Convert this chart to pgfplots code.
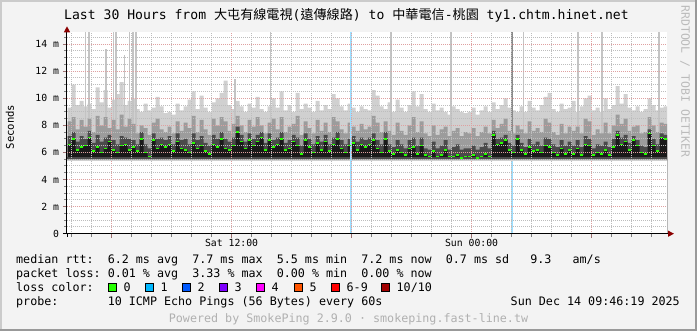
\documentclass[border=0pt]{standalone}
\usepackage{fontspec}
\setmonofont{DejaVu Sans Mono}
\newfontfamily\cjk{Noto Sans CJK TC}
\usepackage{pgfplots}
\pgfplotsset{compat=1.18}
\usepackage{pgfplotstable}
\usetikzlibrary{arrows.meta}
\definecolor{bg}{HTML}{F3F3F3}
\definecolor{shadeA}{HTML}{CBCBCB}
\definecolor{shadeB}{HTML}{999999}
\definecolor{majgrid}{HTML}{DFA0A0}
\definecolor{mingrid}{HTML}{BDBDBD}
\definecolor{arrowred}{HTML}{8B0000}
\definecolor{smokeA}{HTML}{D0D0D0}
\definecolor{smokeB}{HTML}{9C9C9C}
\definecolor{smokeC}{HTML}{4A4A4A}
\definecolor{smokeD}{HTML}{1A1A1A}
\definecolor{spike}{HTML}{C4C4C4}
\definecolor{spikedark}{HTML}{8A8A8A}
\definecolor{lossblue}{HTML}{9EDFFF}
\definecolor{lc0}{HTML}{26FF00}
\definecolor{lc1}{HTML}{00B8FF}
\definecolor{lc2}{HTML}{0059FF}
\definecolor{lc3}{HTML}{7E00FF}
\definecolor{lc4}{HTML}{FF00FF}
\definecolor{lc5}{HTML}{FF5500}
\definecolor{lc6}{HTML}{FF0000}
\definecolor{lc10}{HTML}{A10000}
\definecolor{wm}{HTML}{BBBBBB}
\definecolor{foot}{HTML}{B0B0B0}

\pgfplotstableread{
t max up2 up3 med
3.8 8.9 7.6 6.8 6.0
4.0 9.3 8.3 7.2 6.6
4.2 11.0 8.6 7.5 7.0
4.4 9.5 7.7 6.8 6.2
4.6 9.8 8.4 7.2 6.4
4.8 9.4 7.9 7.0 6.5
5.0 9.6 8.5 7.6 7.1
5.2 9.2 7.5 6.7 6.1
5.4 10.8 8.7 7.3 6.4
5.6 9.7 8.0 6.8 6.0
5.8 10.6 8.6 7.1 6.3
6.0 9.3 7.8 7.3 6.8
6.2 9.9 8.4 6.9 6.2
6.4 10.3 7.7 6.6 6.0
6.6 11.2 8.8 7.2 6.5
6.8 9.5 7.9 7.1 6.6
7.0 9.8 8.5 7.0 6.2
7.2 10.0 8.1 6.9 6.4
7.4 9.2 7.4 6.6 6.1
7.6 9.0 8.0 7.5 7.0
7.8 9.6 7.8 6.6 6.0
8.0 9.1 7.3 6.3 5.7
8.2 9.3 8.2 7.4 6.9
8.4 10.1 8.5 7.0 6.3
8.6 9.4 7.7 7.1 6.6
8.8 8.9 7.5 6.9 6.4
9.0 9.0 7.9 7.2 6.6
9.2 8.8 7.4 6.6 6.1
9.4 9.6 8.3 7.4 6.8
9.6 9.1 7.6 6.9 6.3
9.8 9.4 8.2 7.0 6.2
10.0 9.9 7.8 6.6 6.0
10.2 10.5 8.7 7.4 6.7
10.4 9.2 7.5 6.9 6.3
10.6 10.2 8.4 7.2 6.5
10.8 9.3 7.7 6.7 6.1
11.0 9.0 7.3 6.5 5.9
11.2 9.7 8.5 7.3 6.6
11.4 10.0 8.0 7.0 6.4
11.6 10.4 8.6 7.5 7.0
11.8 11.3 8.3 7.0 6.3
12.0 9.5 7.6 6.8 6.2
12.2 9.2 8.1 7.1 6.5
12.4 9.8 8.7 7.9 7.5
12.6 9.4 8.0 7.3 6.8
12.8 9.0 7.5 6.8 6.3
13.0 9.6 8.4 7.4 6.9
13.2 9.3 7.9 7.0 6.5
13.4 10.1 8.6 7.3 6.8
13.6 9.2 8.0 7.5 7.1
13.8 9.0 7.4 6.7 6.2
14.0 9.4 8.2 7.4 6.9
14.2 10.0 8.5 6.9 6.4
14.4 9.3 7.7 7.1 6.6
14.6 10.5 8.6 7.5 7.0
14.8 9.1 7.5 6.7 6.2
15.0 9.5 7.9 6.9 6.3
15.2 9.0 8.1 7.3 6.8
15.4 10.4 8.7 7.1 6.5
15.6 9.2 7.3 6.5 5.9
15.8 9.6 8.3 7.4 6.9
16.0 9.3 7.8 7.0 6.4
16.2 9.0 7.4 6.6 6.0
16.4 9.8 8.4 7.2 6.7
16.6 9.1 7.6 6.8 6.2
16.8 9.5 8.2 7.3 6.8
17.0 9.2 7.5 6.6 6.1
17.2 10.3 8.6 7.1 6.6
17.4 10.0 8.3 7.5 7.0
17.6 9.4 7.7 6.9 6.3
17.8 9.1 7.4 6.6 6.0
18.0 9.6 8.2 7.0 6.5
18.2 9.3 7.9 7.2 6.7
18.4 9.0 7.6 6.8 6.2
18.6 9.4 8.1 7.1 6.6
18.8 9.2 7.7 6.9 6.4
19.0 9.1 7.9 7.1 6.6
19.2 10.6 8.7 7.4 6.9
19.4 10.2 8.2 6.9 6.3
19.6 9.4 7.5 6.6 6.0
19.8 9.2 8.3 7.5 7.0
20.0 9.7 7.6 6.6 6.1
20.2 9.0 7.3 6.4 5.9
20.4 9.9 8.2 6.9 6.2
20.6 9.3 7.6 6.6 6.0
20.8 9.0 7.3 6.3 5.8
21.0 9.5 8.0 6.9 6.3
21.2 10.5 8.6 7.1 6.4
21.4 9.4 7.5 6.5 5.9
21.6 10.3 8.3 7.1 6.5
21.8 9.2 7.4 6.3 5.8
22.0 9.0 7.2 6.2 5.7
22.2 9.6 8.0 6.8 6.1
22.4 9.1 7.3 6.3 5.7
22.6 9.3 7.7 6.5 5.8
22.8 9.0 7.9 6.9 6.2
23.0 8.8 7.2 6.2 5.7
23.2 9.4 7.6 6.4 5.7
23.4 9.2 7.8 6.6 5.8
23.6 9.0 7.2 6.2 5.6
23.8 8.9 7.5 6.3 5.7
24.0 9.0 7.4 6.3 5.7
24.2 9.3 7.8 6.5 5.8
24.4 8.8 7.2 6.2 5.6
24.6 9.1 7.5 6.4 5.7
24.8 9.4 7.9 6.7 5.9
25.0 9.0 7.4 6.3 5.7
25.2 9.7 8.4 7.6 7.3
25.4 9.2 7.8 7.0 6.6
25.6 9.5 8.1 7.1 6.7
25.8 10.0 8.5 7.3 6.9
26.0 9.3 7.6 6.7 6.2
26.2 9.1 7.4 6.5 6.0
26.4 9.0 8.0 7.3 7.0
26.6 9.4 7.7 6.7 6.2
26.8 9.0 7.4 6.4 5.9
27.0 9.8 8.3 7.0 6.4
27.2 9.3 7.6 6.6 6.1
27.4 9.1 7.8 6.8 6.2
27.6 9.5 7.5 6.5 6.0
27.8 10.1 8.5 7.1 6.5
28.0 10.4 8.2 7.0 6.4
28.2 9.2 7.5 6.6 6.0
28.4 9.0 7.3 6.4 5.8
28.6 9.6 8.1 6.9 6.3
28.8 9.2 7.4 6.5 5.9
29.0 9.3 7.9 6.8 6.2
29.2 9.8 7.6 6.5 5.9
29.4 9.0 7.9 6.9 6.3
29.6 9.4 7.4 6.4 5.8
29.8 10.0 8.5 7.2 6.6
30.0 10.2 8.3 7.0 6.5
30.2 9.1 7.3 6.3 5.8
30.4 9.3 7.7 6.6 6.0
30.6 9.0 7.4 6.5 5.9
30.8 10.0 8.2 6.8 6.2
31.0 9.2 7.4 6.4 5.8
31.2 9.5 8.0 7.0 6.4
31.4 10.9 8.8 7.6 7.3
31.6 9.6 8.1 7.1 6.6
31.8 10.3 8.5 7.3 6.8
32.0 9.3 7.6 6.7 6.2
32.2 9.1 7.9 7.2 6.9
32.4 9.4 8.0 6.9 6.5
32.6 9.0 7.4 6.5 6.0
32.8 9.2 7.5 6.4 5.9
33.0 10.0 8.6 7.7 7.4
33.2 9.5 8.0 7.0 6.5
33.4 9.1 7.5 6.6 6.1
33.6 9.3 8.2 7.4 7.1
33.8 9.4 8.1 7.3 7.0
}\smoke

\begin{document}
\frenchspacing
\begin{tikzpicture}[x=1pt,y=1pt]
\useasboundingbox (0,0) rectangle (697,331);
\fill[bg] (0,0) rectangle (697,331);
\fill[shadeA] (0,0) rectangle (2,331);
\fill[shadeA] (0,329) rectangle (697,331);
\fill[shadeB] (695,0) rectangle (697,331);
\fill[shadeB] (0,0) rectangle (697,2);

\begin{axis}[
  at={(67pt,97.3pt)}, anchor=south west,
  scale only axis, width=600pt, height=201.4pt,
  xmin=3.772, xmax=33.772, ymin=0, ymax=14.87,
  enlargelimits=false,
  axis x line=bottom, axis y line=left,
  axis line style={black, line width=1pt},
  x axis line style={-{Triangle[length=6pt,width=6pt,color=arrowred]}, shorten >=-7pt},
  y axis line style={-{Triangle[length=6pt,width=6pt,color=arrowred]}, shorten >=-6pt},
  axis background/.style={fill=white},
  axis on top,
  xtick={6,12,18,24,30},
  xticklabels={,Sat 12:00,,Sun 00:00,},
  minor xtick={4,5,...,33},
  ytick={0,2,4,6,8,10,12,14},
  yticklabels={0,2 m,4 m,6 m,8 m,10 m,12 m,14 m},
  minor ytick={0.5,1,...,14.5},
  grid=both,
  major grid style={draw=majgrid, line width=1pt, dash pattern=on 1pt off 1pt},
  minor grid style={draw=mingrid, line width=1pt, dash pattern=on 1pt off 1pt},
  tick align=outside,
  major tick length=4pt, minor tick length=3pt,
  major tick style={draw=majgrid!70!black, line width=1pt},
  minor tick style={draw=gray, line width=1pt},
  tick label style={font=\ttfamily\fontsize{9.8}{11}\selectfont},
  yticklabel style={anchor=east, inner sep=0pt, xshift=-3.7pt},
  xticklabel style={anchor=base, inner sep=0pt, yshift=-8.6pt},
  clip=true,
]
% smoke layers
\addplot[const plot mark right, fill=smokeA, draw=none] table[x=t,y=max]{\smoke} \closedcycle;
\addplot[ycomb, draw=spike, line width=1.5pt, mark=none] coordinates {
 (4.69,15) (4.86,15) (5.72,13.6) (6.09,15) (6.22,15) (6.64,13.2) (6.89,15) (7.06,15) (7.22,15)
 (12.17,11.4) (13.94,15) (19.97,15) (22.97,15) (26.59,15) (29.31,15) (30.52,15) (33.36,15)};
\addplot[ycomb, draw=spikedark, line width=1.5pt, mark=none] coordinates {(26.02,15)};
\addplot[const plot mark right, fill=smokeB, draw=none] table[x=t,y=up2]{\smoke} \closedcycle;
\addplot[const plot mark right, fill=smokeC, draw=none] table[x=t,y=up3]{\smoke} \closedcycle;
\addplot[const plot mark right, fill=smokeD, draw=none] table[x=t,y=med]{\smoke} \closedcycle;
% lower fringe
\addplot[fill=smokeC, draw=none] coordinates {(3.7,5.65) (33.9,5.65)} \closedcycle;
\addplot[fill=smokeB, draw=none] coordinates {(3.7,5.55) (33.9,5.55)} \closedcycle;
\addplot[fill=smokeA, draw=none] coordinates {(3.7,5.45) (33.9,5.45)} \closedcycle;
\addplot[fill=white, draw=none] coordinates {(3.7,5.35) (33.9,5.35)} \closedcycle;
% median
\addplot[only marks, mark=-, mark size=1.8pt, mark options={draw=lc0, line width=1.6pt}]
  table[x expr=\thisrow{t}-0.1, y=med]{\smoke};
% loss lines
\addplot[ycomb, draw=lossblue, line width=1.7pt, mark=none] coordinates {(17.987,15)};
\addplot[ycomb, draw=lossblue, line width=1.7pt, mark=none] coordinates {(26.037,5.4)};
\end{axis}

% extensions of axes at origin
\draw[black, line width=1pt] (63,97.3) -- (67,97.3);
\draw[black, line width=1pt] (67,97.3) -- (67,94);

% title
\node[anchor=base west, inner sep=0pt] at (64,311.7) {\ttfamily\fontsize{13.1}{15}\selectfont Last 30 Hours from {\cjk 大屯有線電視}({\cjk 遠傳線路}) to {\cjk 中華電信}-{\cjk 桃園} ty1.chtm.hinet.net};
% y label
\node[rotate=90, inner sep=0pt] at (10,204) {\ttfamily\fontsize{10.6}{12}\selectfont Seconds};
% watermark
\node[rotate=-90, inner sep=0pt, text=wm] at (685,249.5) {\ttfamily\fontsize{11.5}{13}\selectfont RRDTOOL / TOBI OETIKER};

% legend rows
\begin{scope}[every node/.style={anchor=base west, inner sep=0pt, font=\ttfamily\fontsize{11.7}{13}\selectfont}]
\node at (16,67.7) {median rtt:~~6.2 ms avg~~7.7 ms max~~5.5 ms min~~7.2 ms now~~0.7 ms sd~~~9.3~~~am/s};
\node at (16,53.7) {packet loss: 0.01 \% avg~~3.33 \% max~~0.00 \% min~~0.00 \% now};
\node at (16,39.7) {loss color:};
\node at (16,25.7) {probe:~~~~~~~10 ICMP Echo Pings (56 Bytes) every 60s};
\node[anchor=base east] at (680,25.7) {Sun Dec 14 09:46:19 2025};
\node at (123.5,39.7) {0};
\node at (160.5,39.7) {1};
\node at (197.5,39.7) {2};
\node at (234.5,39.7) {3};
\node at (271.5,39.7) {4};
\node at (309.5,39.7) {5};
\node at (346.5,39.7) {6-9};
\node at (396.5,39.7) {10/10};
\end{scope}
\foreach \xx/\cc in {108/lc0,145/lc1,182/lc2,219/lc3,256/lc4,294/lc5,331/lc6,381/lc10}{
  \filldraw[fill=\cc, draw=black, line width=0.8pt] (\xx,39.5) rectangle ++(8,8);
}
% footer
\node[anchor=base, inner sep=0pt, text=foot] at (348.5,8.5) {\ttfamily\fontsize{11.7}{13}\selectfont Powered by SmokePing 2.9.0 · smokeping.fast-line.tw};
\end{tikzpicture}
\end{document}
